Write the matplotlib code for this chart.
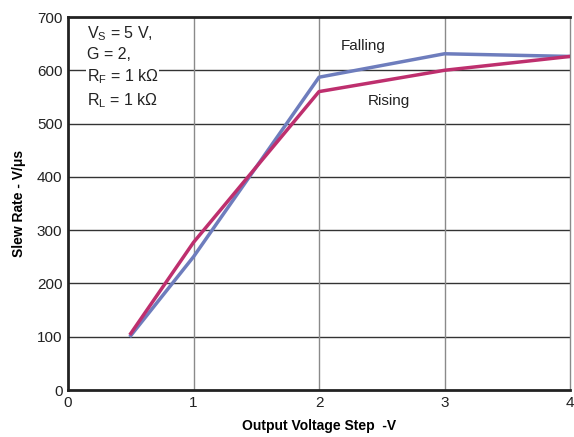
import matplotlib
matplotlib.use("Agg")
import matplotlib.pyplot as plt

plt.rcParams['font.family'] = ['Liberation Sans', 'DejaVu Sans']
plt.rcParams['mathtext.fontset'] = 'custom'
plt.rcParams['mathtext.rm'] = 'Liberation Sans'
plt.rcParams['mathtext.it'] = 'Liberation Sans'

step_v = [0.5, 1, 2, 3, 4]
falling = [102, 250, 587, 631, 626]
rising = [106, 277, 560, 600, 626]
x_ticks = [0, 1, 2, 3, 4]
y_ticks = [0, 100, 200, 300, 400, 500, 600, 700]

fig = plt.figure(figsize=(5.74, 4.37), dpi=100)
ax = fig.add_axes([68/574, 47/437, 502/574, 373/437])

ax.set_xlim(0, 4)
ax.set_ylim(0, 700)
ax.set_xticks(x_ticks)
ax.set_yticks(y_ticks)
ax.tick_params(length=0, labelsize=11, pad=4, colors='#222222')

for y in y_ticks[1:-1]:
    ax.axhline(y, color='#333333', lw=1.0, zorder=1)
for x in x_ticks[1:-1]:
    ax.axvline(x, color='#8a8a8a', lw=1.0, zorder=1)

for s in ['left', 'bottom', 'top']:
    ax.spines[s].set_linewidth(2.0)
    ax.spines[s].set_color('#222222')
ax.spines['right'].set_linewidth(1.0)
ax.spines['right'].set_color('#8a8a8a')

ax.plot(step_v, falling, color='#6e7dbd', lw=2.5, zorder=3)
ax.plot(step_v, rising, color='#be2f6e', lw=2.5, zorder=3)

ax.text(0.15, 606, 'V$_{\\mathrm{S}}$ = 5 V,\nG = 2,\nR$_{\\mathrm{F}}$ = 1 kΩ\nR$_{\\mathrm{L}}$ = 1 kΩ',
        fontsize=11.5, va='center', ha='left', linespacing=1.35, color='#222222',
        bbox=dict(facecolor='white', edgecolor='none', pad=0.5), zorder=4)

ax.text(2.35, 645, 'Falling', fontsize=11, ha='center', va='center', color='#222222')
ax.text(2.56, 542, 'Rising', fontsize=11, ha='center', va='center', color='#222222')

ax.set_xlabel('Output Voltage Step  -V', fontsize=10, fontweight='bold', labelpad=7)
ax.set_ylabel('Slew Rate - V/μs', fontsize=10, fontweight='bold', labelpad=8)

fig.savefig('out.png', dpi=100)
